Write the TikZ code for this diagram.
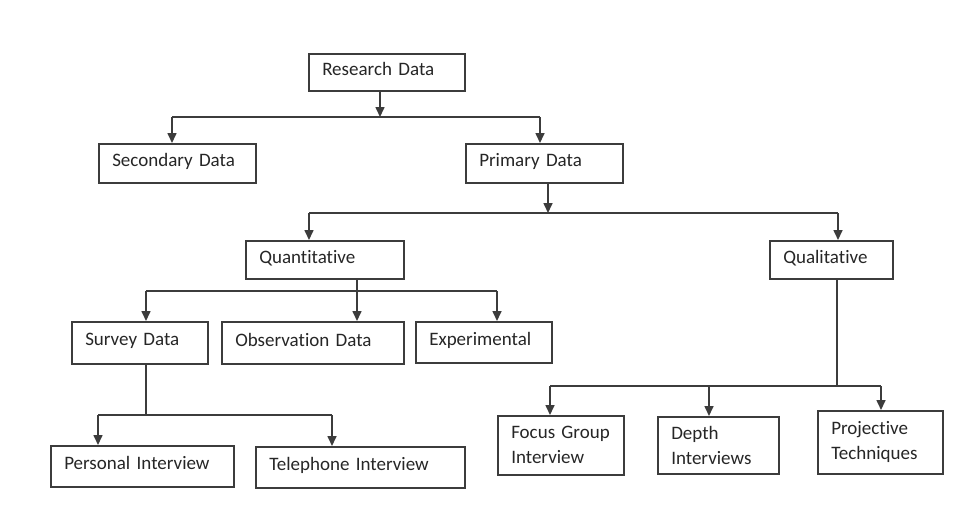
\documentclass[tikz,border=0pt]{standalone}
\usepackage{fontspec}
\setmainfont{Carlito}[Ligatures=NoCommon, WordSpace=0.7]
\usetikzlibrary{arrows.meta}

\definecolor{linegray}{HTML}{3C3C3C}
\definecolor{textgray}{HTML}{262626}

\begin{document}
\begin{tikzpicture}[x=1pt, y=-1pt,
    box/.style={draw=linegray, line width=1.5pt, rectangle, anchor=north west,
        align=left, inner xsep=13.5pt, inner ysep=0pt, text width=#1-27pt,
        text depth=6.5pt, font=\fontsize{19}{25}\selectfont, text=textgray},
    twoline/.style={text depth={}},
    conn/.style={draw=linegray, line width=1.6pt},
    arr/.style={conn, -{Triangle[width=9pt, length=10pt]}}]
    % Page
    \useasboundingbox[fill=white] (0,0) rectangle (955,528);
    % Boxes, top to bottom
    \node[box=156, minimum height=37] (research) at (308,53) {Research Data};
    \node[box=157, minimum height=39] (secondary) at (98,143) {Secondary Data};
    \node[box=157, minimum height=39] (primary) at (465,143) {Primary Data};
    \node[box=158, minimum height=38] (quant) at (245,240) {Quantitative};
    \node[box=123, minimum height=38] (qual) at (769,240) {Qualitative};
    \node[box=136, minimum height=42] (survey) at (71,321) {Survey Data};
    \node[box=182, minimum height=42] (observ) at (221,321) {Observation Data};
    \node[box=136, minimum height=41] (experim) at (415,321) {Experimental};
    \node[box=183, minimum height=41] (personal) at (50,445) {Personal Interview};
    \node[box=209, minimum height=41] (phone) at (255,446) {Telephone Interview};
    \node[box=126, twoline, minimum height=59] (focus) at (497,415) {Focus Group\\Interview};
    \node[box=121, twoline, minimum height=57] (depth) at (657,416) {Depth\\Interviews};
    \node[box=125, twoline, minimum height=63] (projective) at (817,410) {Projective\\Techniques};
    % Junction points on the bus lines
    \coordinate (rdj) at (380,117);
    \coordinate (sdj) at (172,117);
    \coordinate (pdj) at (540,117);
    \coordinate (pmj) at (548,213);
    \coordinate (qnj) at (309,213);
    \coordinate (qlj) at (838,213);
    \coordinate (qbj) at (357,291);
    \coordinate (svj) at (146,291);
    \coordinate (exj) at (497,291);
    \coordinate (sbj) at (146,415);
    \coordinate (pij) at (98,415);
    \coordinate (tij) at (332,415);
    \coordinate (qdj) at (837,386);
    \coordinate (fgj) at (550,386);
    \coordinate (dij) at (709,386);
    \coordinate (ptj) at (881,386);
    % Research Data split
    \draw[arr] (rdj |- research.south) -- (rdj);
    \draw[conn] (sdj) -- (pdj);
    % Primary Data split
    \draw[arr] (pmj |- primary.south) -- (pmj);
    \draw[conn] (qnj) -- (qlj);
    % Quantitative split, middle arrow runs straight through
    \draw[arr] (qbj |- quant.south) -- (qbj |- observ.north);
    \draw[conn] (svj) -- (exj);
    % Survey Data split
    \draw[conn] (sbj |- survey.south) -- (sbj);
    \draw[conn] (pij) -- (tij);
    % Qualitative split
    \draw[conn] (qdj |- qual.south) -- (qdj);
    \draw[conn] (fgj) -- (ptj);
    % Drop arrows into the boxes
    \foreach \j/\n in {sdj/secondary, pdj/primary, qnj/quant, qlj/qual,
        svj/survey, exj/experim, pij/personal, tij/phone,
        fgj/focus, dij/depth, ptj/projective} {
        \draw[arr] (\j) -- (\j |- \n.north);
    }
\end{tikzpicture}
\end{document}
